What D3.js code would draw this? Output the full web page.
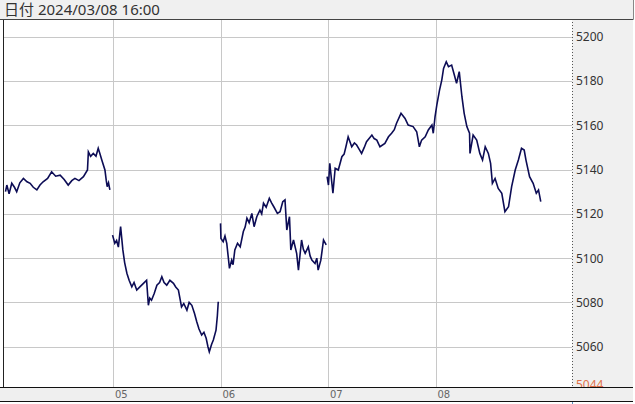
<!DOCTYPE html>
<html><head><meta charset="utf-8">
<script src="https://cdn.jsdelivr.net/npm/d3@7"></script>
<style>body{margin:0;background:#fff;}svg{display:block;}</style>
</head><body>
<script>
// ---- data (time in hours from 2024/03/04 00:00, value) ----
const headerText = "日付 2024/03/08 16:00";
const dayLabels = ["05","06","07","08"];
const dayStarts = [24,48,72,96];
const yTicks = [5060,5080,5100,5120,5140,5160,5180,5200];
const lastLabel = 5044;
const segA = [[0,5130],[0.3,5133],[0.8,5129],[1.4,5133.8],[2.0,5132],[2.5,5130],[3.2,5134],[4.0,5136],[4.8,5134.5],[5.5,5133.8],[6.2,5132],[7.0,5130.8],[7.7,5133],[8.4,5134.5],[9.4,5136],[10.3,5139],[11.2,5137],[12.2,5137.5],[13.1,5135.5],[14.0,5133],[14.8,5135],[15.5,5136],[16.4,5135],[17.4,5136.8],[18.3,5139.8],[18.5,5148],[19.0,5146],[19.6,5147.3],[20.2,5146],[20.7,5149.6],[21.1,5147],[21.5,5144.3],[22.2,5139.8],[22.5,5135],[22.7,5132.3],[23.0,5134],[23.3,5130.8]];
const segB = [[23.9,5110.4],[24.4,5106.7],[24.8,5108],[25.2,5105],[25.7,5114.2],[26.2,5103.7],[26.6,5098],[27.1,5093.2],[27.6,5090],[28.2,5087],[28.7,5089],[29.3,5085.6],[30.0,5087],[30.8,5088.6],[31.5,5090],[31.9,5078.7],[32.2,5082],[32.6,5081],[33.2,5084],[33.8,5087.8],[34.4,5089],[34.9,5091.6],[35.4,5089],[36.0,5087.8],[36.7,5090],[37.5,5088.6],[38.0,5087],[38.6,5085.6],[39.3,5078],[39.8,5079.5],[40.5,5076.5],[41.0,5080],[41.6,5078.7],[42.2,5075],[42.7,5071.3],[43.2,5068],[43.8,5065.3],[44.3,5066.5],[44.8,5063.8],[45.2,5060],[45.5,5057.7],[46.0,5061],[46.4,5063],[47.0,5067.5],[47.3,5074],[47.5,5080.3]];
const segC = [[48.0,5115.7],[48.1,5108.9],[48.6,5107.4],[49.0,5110],[49.4,5106.7],[50.0,5095.4],[50.5,5099.1],[50.8,5097],[51.2,5103.7],[51.8,5106.7],[52.4,5105.1],[53.1,5112],[53.5,5114],[53.9,5118],[54.4,5116],[55.0,5120.2],[55.5,5114.2],[56.1,5118.7],[56.8,5121.7],[57.2,5120],[57.6,5124.8],[58.2,5123],[58.9,5127],[59.4,5125],[59.9,5123.2],[60.7,5120.2],[61.3,5121],[61.9,5125.5],[62.4,5126.3],[62.8,5112.7],[63.4,5118.7],[63.7,5103.7],[64.3,5108.2],[65.0,5102.2],[65.4,5094.6],[66.1,5108.2],[66.5,5104],[66.9,5102.2],[67.6,5105.1],[68.0,5101],[68.4,5099.1],[69.1,5097.6],[69.5,5100],[69.8,5094.6],[70.4,5099.1],[71.0,5108.2],[71.6,5106]];
const segD = [[71.8,5136.8],[72.1,5133],[72.4,5142.8],[73.1,5129.3],[73.6,5140.6],[74.3,5139.8],[75.1,5145.8],[75.6,5147],[76.0,5150.3],[76.5,5154.8],[77.3,5150.3],[77.9,5152],[78.4,5151.1],[79.0,5149],[79.5,5147.3],[80.1,5150],[80.6,5152.6],[81.8,5155.6],[82.3,5154],[82.9,5153.3],[83.6,5150.3],[84.7,5151.8],[85.5,5154.8],[86.2,5156.4],[86.8,5158],[87.3,5160.9],[88.3,5165.4],[89.2,5163.1],[89.9,5160.1],[91.0,5159.4],[91.8,5157.1],[92.4,5150.3],[92.9,5153.3],[93.7,5154.8],[94.4,5157.9],[95.2,5160.1],[95.5,5156.4],[95.9,5163.9],[96.3,5169.2],[96.9,5175.9],[97.4,5180.4],[97.8,5185.7],[98.4,5188.7],[98.9,5186.5],[99.6,5187.2],[100.1,5183.5],[100.7,5179],[101.3,5184.2],[101.9,5172.9],[102.4,5165.4],[103.0,5159.4],[103.6,5156.4],[103.7,5147.3],[104.4,5155.6],[105.2,5153.3],[105.9,5147.3],[106.5,5144.3],[107.1,5150.3],[107.8,5147.3],[108.3,5142.8],[108.7,5133.8],[109.3,5136],[110.0,5131.5],[110.8,5129.3],[111.5,5121],[112.3,5123.2],[113.0,5132.3],[113.8,5139.8],[114.5,5144.3],[115.2,5149.6],[115.8,5148.8],[116.2,5144.3],[117.0,5136.8],[117.8,5133.8],[118.5,5129.3],[119.0,5130.8],[119.5,5125.5]];

// ---- layout ----
const W = 635, H = 404;
const plotL = 3, plotR = 572, plotT = 19, plotB = 387;
const svg = d3.select("body").append("svg").attr("width", W).attr("height", H);

const x = d3.scaleLinear().domain([0,120]).range([5.5,543]);
const y = d3.scaleLinear().domain([5041.8,5208.0]).range([plotB, plotT]);

// right axis background
svg.append("rect").attr("x", plotR).attr("y", plotT).attr("width", 633-plotR).attr("height", plotB-plotT).attr("fill", "#f0f0f0");

// grid
svg.append("g").selectAll("line").data(yTicks).join("line")
  .attr("x1", plotL).attr("x2", plotR).attr("y1", d => Math.round(y(d))+0.5).attr("y2", d => Math.round(y(d))+0.5)
  .attr("stroke", "#c8c8c8").attr("stroke-width", 1);
svg.append("g").selectAll("line").data(dayStarts).join("line")
  .attr("x1", d => Math.round(x(d))+0.5).attr("x2", d => Math.round(x(d))+0.5).attr("y1", plotT).attr("y2", plotB)
  .attr("stroke", "#c8c8c8").attr("stroke-width", 1);

// price line
svg.append("clipPath").attr("id","clip").append("rect").attr("x", plotL).attr("y", plotT).attr("width", plotR-plotL).attr("height", plotB-plotT);
const line = d3.line().x(d => x(d[0])).y(d => y(d[1]));
svg.append("g").attr("clip-path","url(#clip)").selectAll("path").data([segA, segB, segC, segD]).join("path")
  .attr("d", line).attr("fill", "none").attr("stroke", "#0c0c55").attr("stroke-width", 1.6).attr("stroke-linejoin","miter");

// right axis labels
svg.append("g").selectAll("text").data(yTicks).join("text")
  .attr("x", plotR + 4).attr("y", d => y(d) + 4.5)
  .attr("font-family", "'Noto Sans', 'DejaVu Sans', sans-serif").attr("font-size", 12).attr("fill", "#333")
  .text(d => d);
svg.append("text").attr("x", plotR + 4).attr("y", y(lastLabel) + 7)
  .attr("font-family", "'Noto Sans', 'DejaVu Sans', sans-serif").attr("font-size", 12).attr("fill", "#e0704a")
  .text(lastLabel);

// dotted separator
svg.append("line").attr("x1", plotR+0.5).attr("x2", plotR+0.5).attr("y1", plotT).attr("y2", plotB)
  .attr("stroke", "#555").attr("stroke-dasharray", "1,2");

// left border
svg.append("line").attr("x1", plotL+0.5).attr("x2", plotL+0.5).attr("y1", plotT).attr("y2", plotB).attr("stroke", "#222");

// header
svg.append("rect").attr("x", 0).attr("y", 0).attr("width", 633).attr("height", plotT).attr("fill", "#f0f0f0");
svg.append("line").attr("x1", 0).attr("x2", 633.5).attr("y1", plotT+0.5).attr("y2", plotT+0.5).attr("stroke", "#444");
svg.append("line").attr("x1", 633.5).attr("x2", 633.5).attr("y1", 0).attr("y2", plotT).attr("stroke", "#888");
svg.append("text").attr("x", 4).attr("y", 15)
  .attr("font-family", "'Noto Sans', 'Noto Sans CJK JP', sans-serif").attr("font-size", 15).attr("fill", "#333")
  .text(headerText);

// bottom axis band
svg.append("rect").attr("x", 0).attr("y", plotB).attr("width", 633).attr("height", 14).attr("fill", "#efefef");
svg.append("line").attr("x1", 0).attr("x2", 633).attr("y1", plotB+0.5).attr("y2", plotB+0.5).attr("stroke", "#111");
svg.append("line").attr("x1", 0).attr("x2", 633).attr("y1", plotB+14.5).attr("y2", plotB+14.5).attr("stroke", "#111");
svg.append("g").selectAll("text").data(dayLabels).join("text")
  .attr("x", (d,i) => x(dayStarts[i]) + 2).attr("y", plotB + 11)
  .attr("font-family", "'DejaVu Sans', sans-serif").attr("font-size", 10).attr("fill", "#666")
  .text(d => d);
svg.append("line").attr("x1", plotR+0.5).attr("x2", plotR+0.5).attr("y1", plotB+15).attr("y2", H).attr("stroke", "#5a8fc0");
</script>
</body></html>
